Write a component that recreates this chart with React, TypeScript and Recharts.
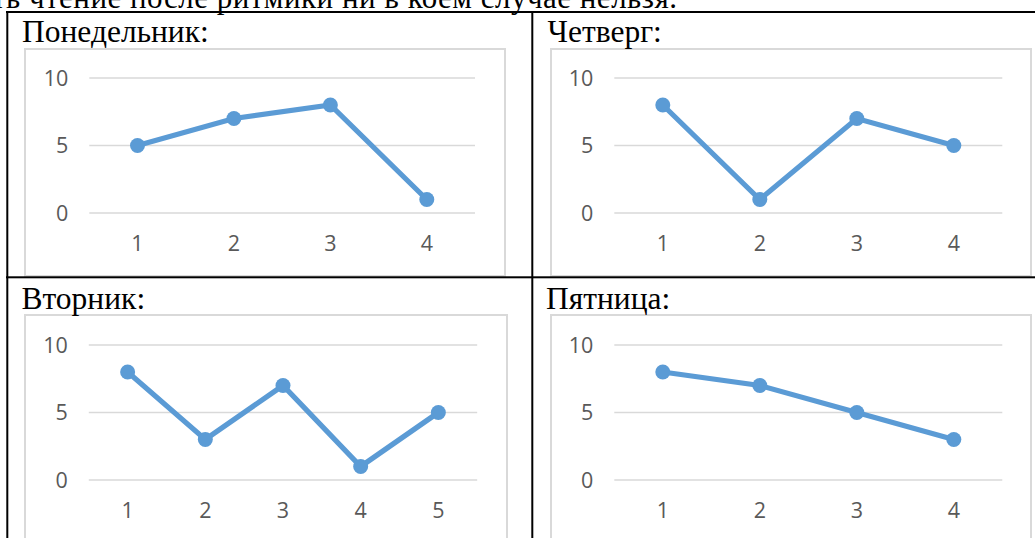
import React from 'react';
import { LineChart, Line, XAxis, YAxis, CartesianGrid } from 'recharts';

// ---- data ----
const topLine = 'ть чтение после ритмики ни в коем случае нельзя.';
const titles = ['Понедельник:', 'Четверг:', 'Вторник:', 'Пятница:'];

const monCats = ['1', '2', '3', '4'];
const monVals = [5, 7, 8, 1];

const thuCats = ['1', '2', '3', '4'];
const thuVals = [8, 1, 7, 5];

const tueCats = ['1', '2', '3', '4', '5'];
const tueVals = [8, 3, 7, 1, 5];

const friCats = ['1', '2', '3', '4'];
const friVals = [8, 7, 5, 3];

const yTicks = [0, 5, 10];

// ---- styles ----
const LINE = '#5b9bd5';
const GRID = '#d9d9d9';
const TICK = '#595959';
const SANS = '"Open Sans", "Noto Sans", sans-serif';
const SERIF = '"Liberation Serif", "Times New Roman", serif';
const TICK_SIZE = 21.5;

type Frame = { x: number; y: number; w: number; h: number };
type Plot = { left: number; right: number; top: number; bottom: number };

function DayChart({ cats, vals, frame, plot }: { cats: string[]; vals: number[]; frame: Frame; plot: Plot }) {
  const data = cats.map((c, i) => ({ cat: c, v: vals[i] }));
  const plotW = plot.right - plot.left;
  const half = plotW / cats.length / 2;
  return (
    <>
      <div
        style={{
          position: 'absolute',
          left: frame.x - 1,
          top: frame.y - 1,
          width: frame.w + 2,
          height: frame.h + 2,
          border: `2px solid ${GRID}`,
          boxSizing: 'border-box',
          background: '#fff',
        }}
      />
      <div style={{ position: 'absolute', left: frame.x, top: frame.y }}>
        <LineChart
          width={frame.w}
          height={frame.h}
          data={data}
          margin={{ top: plot.top - frame.y, right: frame.x + frame.w - plot.right, left: 0, bottom: 0 }}
        >
          <CartesianGrid vertical={false} stroke={GRID} strokeWidth={1.7} />
          <XAxis
            dataKey="cat"
            type="category"
            height={frame.y + frame.h - plot.bottom}
            padding={{ left: half, right: half }}
            tickLine={false}
            axisLine={false}
            tickSize={0}
            tickMargin={23}
            interval={0}
            tick={{ fill: TICK, fontSize: TICK_SIZE, fontFamily: SANS }}
          />
          <YAxis
            width={plot.left - frame.x}
            domain={[0, 10]}
            ticks={yTicks}
            tickLine={false}
            axisLine={false}
            tickSize={0}
            tickMargin={21}
            interval={0}
            tick={{ fill: TICK, fontSize: TICK_SIZE, fontFamily: SANS }}
          />
          <Line
            type="linear"
            dataKey="v"
            stroke={LINE}
            strokeWidth={5.2}
            dot={{ r: 7.5, fill: LINE, stroke: 'none' }}
            activeDot={false}
            isAnimationActive={false}
          />
        </LineChart>
      </div>
    </>
  );
}

export default function App() {
  return (
    <div
      style={{
        position: 'absolute',
        left: 0,
        top: 0,
        width: 1035,
        height: 538,
        overflow: 'hidden',
        background: '#fff',
      }}
    >
      <DayChart
        cats={monCats}
        vals={monVals}
        frame={{ x: 25, y: 49.3, w: 480, h: 226.5 }}
        plot={{ left: 89.3, right: 475, top: 78.3, bottom: 213.3 }}
      />
      <DayChart
        cats={thuCats}
        vals={thuVals}
        frame={{ x: 550.7, y: 49.3, w: 480.3, h: 226.5 }}
        plot={{ left: 614, right: 1002, top: 78.3, bottom: 213.3 }}
      />
      <DayChart
        cats={tueCats}
        vals={tueVals}
        frame={{ x: 24.5, y: 315, w: 482.2, h: 227 }}
        plot={{ left: 88.3, right: 476.7, top: 345, bottom: 480 }}
      />
      <DayChart
        cats={friCats}
        vals={friVals}
        frame={{ x: 550.7, y: 315, w: 480.3, h: 227 }}
        plot={{ left: 614, right: 1002, top: 345, bottom: 480 }}
      />
      <svg
        width={1035}
        height={538}
        style={{ position: 'absolute', left: 0, top: 0, pointerEvents: 'none' }}
      >
        <text x={-8} y={8} fontFamily={SERIF} fontSize={31} fill="#000" textLength={685} lengthAdjust="spacing">
          {topLine}
        </text>
        <text x={22} y={41.5} fontFamily={SERIF} fontSize={31.5} fill="#000">{titles[0]}</text>
        <text x={547.5} y={41.5} fontFamily={SERIF} fontSize={31.5} fill="#000">{titles[1]}</text>
        <text x={21.5} y={308.5} fontFamily={SERIF} fontSize={31.5} fill="#000">{titles[2]}</text>
        <text x={546} y={308.5} fontFamily={SERIF} fontSize={31.5} fill="#000">{titles[3]}</text>
        <rect x={6} y={11} width={1029} height={2} fill="#000" />
        <rect x={6} y={276.3} width={1029} height={2} fill="#000" />
        <rect x={6.3} y={11} width={2} height={527} fill="#000" />
        <rect x={531.3} y={11} width={2} height={527} fill="#000" />
      </svg>
    </div>
  );
}
